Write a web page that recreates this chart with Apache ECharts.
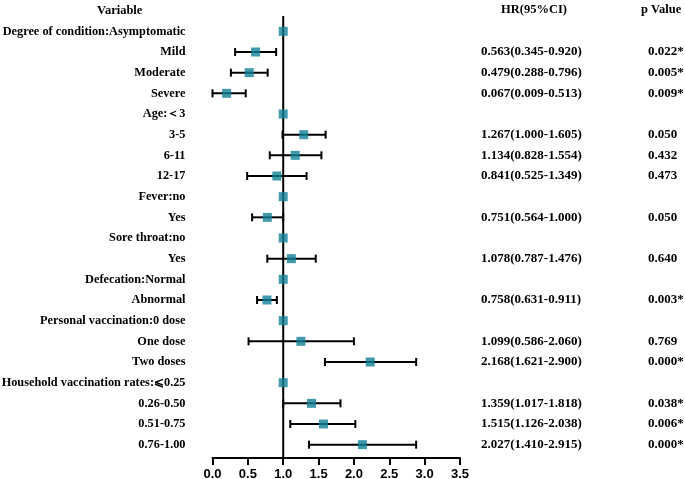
<!DOCTYPE html>
<html>
<head>
<meta charset="utf-8">
<script src="https://cdn.jsdelivr.net/npm/echarts@6/dist/echarts.min.js"></script>
<style>html,body{margin:0;padding:0;background:#fff;}#c{width:685px;height:479px;}</style>
</head>
<body>
<div id="c"></div>
<script>
const categories = [
  'Degree of condition:Asymptomatic', 'Mild', 'Moderate', 'Severe',
  'Age:\uFF1C3', '3-5', '6-11', '12-17',
  'Fever:no', 'Yes',
  'Sore throat:no', 'Yes',
  'Defecation:Normal', 'Abnormal',
  'Personal vaccination:0 dose', 'One dose', 'Two doses',
  'Household vaccination rates:\u2A7D0.25', '0.26-0.50', '0.51-0.75', '0.76-1.00'
];
const hrValues = [1, 0.61, 0.52, 0.20, 1, 1.29, 1.17, 0.91, 1, 0.775, 1, 1.115, 1, 0.77, 1, 1.25, 2.23, 1, 1.40, 1.57, 2.12];
const ciLower  = [null, 0.32, 0.26, 0.00, null, 0.99, 0.81, 0.49, null, 0.56, null, 0.775, null, 0.63, null, 0.51, 1.59, null, 1.00, 1.10, 1.365];
const ciUpper  = [null, 0.90, 0.78, 0.47, null, 1.60, 1.54, 1.33, null, 1.00, null, 1.46, null, 0.91, null, 2.00, 2.88, null, 1.81, 2.02, 2.88];
const hrLabels = [
  '', '0.563(0.345-0.920)', '0.479(0.288-0.796)', '0.067(0.009-0.513)',
  '', '1.267(1.000-1.605)', '1.134(0.828-1.554)', '0.841(0.525-1.349)',
  '', '0.751(0.564-1.000)',
  '', '1.078(0.787-1.476)',
  '', '0.758(0.631-0.911)',
  '', '1.099(0.586-2.060)', '2.168(1.621-2.900)',
  '', '1.359(1.017-1.818)', '1.515(1.126-2.038)', '2.027(1.410-2.915)'
];
const pLabels = [
  '', '0.022*', '0.005*', '0.009*',
  '', '0.050', '0.432', '0.473',
  '', '0.050',
  '', '0.640',
  '', '0.003*',
  '', '0.769', '0.000*',
  '', '0.038*', '0.006*', '0.000*'
];
const headers = { variable: 'Variable', hr: 'HR(95%CI)', p: 'p Value' };

const serif = '"Liberation Serif","Times New Roman",serif';
const sans = '"Liberation Sans",Arial,sans-serif';
const teal = '#127f97';

const ciData = [];
ciLower.forEach((lo, i) => { if (lo !== null) ciData.push([lo, ciUpper[i], i]); });

const chart = echarts.init(document.getElementById('c'));
chart.setOption({
  animation: false,
  backgroundColor: '#fff',
  grid: { left: 212.5, right: 225, top: 21, bottom: 24, containLabel: false, outerBoundsMode: 'none' },
  xAxis: {
    type: 'value', min: 0, max: 3.5, interval: 0.5, offset: 3,
    axisLine: { show: true, lineStyle: { color: '#000', width: 2 } },
    axisTick: { show: true, length: 7, lineStyle: { color: '#000', width: 2 } },
    axisLabel: { color: '#000', fontFamily: sans, fontWeight: 'bold', fontSize: 13, margin: 10,
      formatter: v => v.toFixed(1) },
    splitLine: { show: false }
  },
  yAxis: [
    { type: 'category', data: categories, inverse: true,
      axisLine: { show: false }, axisTick: { show: false }, splitLine: { show: false },
      axisLabel: { color: '#000', fontFamily: serif, fontWeight: 'bold', fontSize: 12.3, margin: 27, interval: 0 } },
    { type: 'category', data: hrLabels, inverse: true, position: 'right', offset: 13,
      axisLine: { show: false }, axisTick: { show: false }, splitLine: { show: false },
      axisLabel: { color: '#000', fontFamily: serif, fontWeight: 'bold', fontSize: 13, margin: 8, interval: 0, align: 'left' } },
    { type: 'category', data: pLabels, inverse: true, position: 'right', offset: 180,
      axisLine: { show: false }, axisTick: { show: false }, splitLine: { show: false },
      axisLabel: { color: '#000', fontFamily: serif, fontWeight: 'bold', fontSize: 13, margin: 8, interval: 0, align: 'left' } }
  ],
  graphic: [
    { type: 'text', left: 97, top: 4, style: { text: headers.variable, font: 'bold 12.5px ' + serif, fill: '#000' } },
    { type: 'text', left: 501, top: 3, style: { text: headers.hr, font: 'bold 12.5px ' + serif, fill: '#000' } },
    { type: 'text', left: 641, top: 3, style: { text: headers.p, font: 'bold 12.5px ' + serif, fill: '#000' } }
  ],
  series: [
    { type: 'custom', name: 'ref', clip: false, z: 1,
      data: [[1, 0]], encode: { x: 0, y: 1 },
      renderItem: (params, api) => {
        const cs = params.coordSys;
        const x = api.coord([api.value(0), 0])[0];
        return { type: 'line', shape: { x1: x, y1: cs.y - 5, x2: x, y2: cs.y + cs.height + 3 },
          style: { stroke: '#000', lineWidth: 2 } };
      } },
    { type: 'custom', name: 'ci', z: 2, clip: false,
      data: ciData, encode: { x: [0, 1], y: 2 },
      renderItem: (params, api) => {
        const a = api.coord([api.value(0), api.value(2)]);
        const b = api.coord([api.value(1), api.value(2)]);
        const h = 4;
        const st = { stroke: '#000', lineWidth: 2 };
        return { type: 'group', children: [
          { type: 'line', shape: { x1: a[0], y1: a[1], x2: b[0], y2: b[1] }, style: st },
          { type: 'line', shape: { x1: a[0], y1: a[1] - h, x2: a[0], y2: a[1] + h }, style: st },
          { type: 'line', shape: { x1: b[0], y1: b[1] - h, x2: b[0], y2: b[1] + h }, style: st }
        ] };
      } },
    { type: 'scatter', name: 'HR', z: 3, symbol: 'rect', symbolSize: 9,
      itemStyle: { color: teal },
      data: hrValues.map((v, i) => [v, i]) }
  ]
});
</script>
</body>
</html>
